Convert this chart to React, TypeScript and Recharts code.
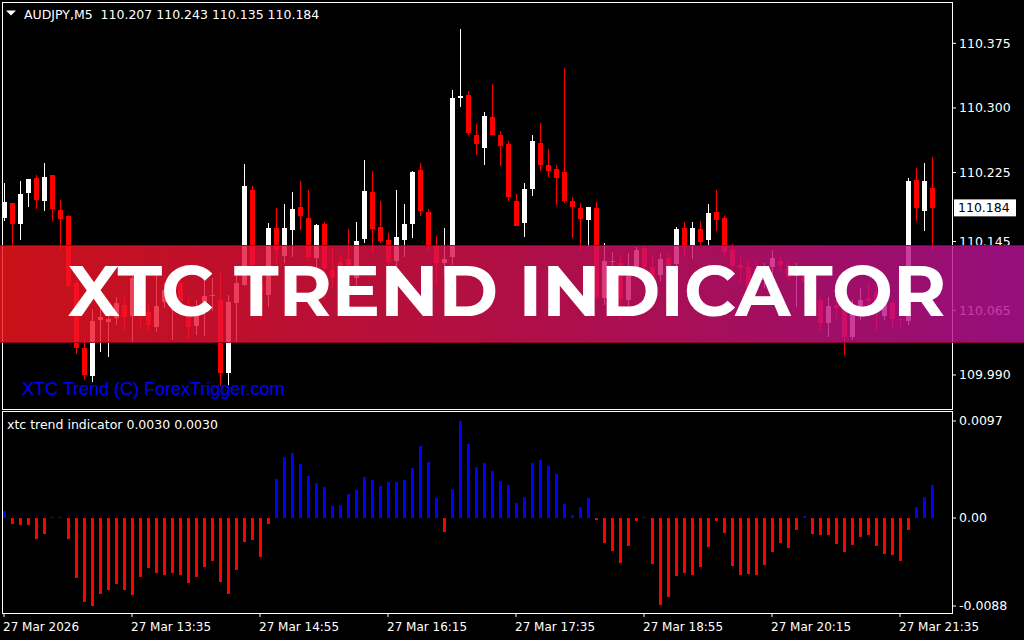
import React from 'react';
import { ComposedChart, Bar, XAxis, YAxis, ReferenceLine } from 'recharts';

// AUDJPY M5 candles
const openPrices = [
  110.173, 110.190, 110.165, 110.202, 110.219, 110.192, 110.222, 110.182, 110.175, 110.097,
  110.021, 109.989, 110.053, 110.052, 110.057, 110.071, 110.059, 110.077, 110.063, 110.046,
  110.075, 110.081, 110.097, 110.057, 110.046, 110.075, 110.082, 110.077, 109.993, 110.074,
  110.094, 110.205, 110.097, 110.083, 110.161, 110.129, 110.159, 110.185, 110.172, 110.126,
  110.165, 110.112, 110.121, 110.125, 110.103, 110.148, 110.202, 110.162, 110.147, 110.122,
  110.147, 110.166, 110.228, 110.179, 110.141, 110.120, 110.127, 110.312, 110.315, 110.269,
  110.254, 110.290, 110.269, 110.258, 110.192, 110.166, 110.206, 110.259, 110.234, 110.229,
  110.226, 110.192, 110.184, 110.170, 110.184, 110.079, 110.121, 110.120, 110.077, 110.115,
  110.137, 110.115, 110.106, 110.126, 110.118, 110.161, 110.140, 110.159, 110.147, 110.179,
  110.172, 110.135, 110.118, 110.115, 110.114, 110.100, 110.115, 110.122, 110.118, 110.105,
  110.108, 110.094, 110.077, 110.050, 110.071, 110.065, 110.034, 110.068, 110.079, 110.086,
  110.059, 110.074, 110.055, 110.052, 110.216, 110.180, 110.207,
];
const highPrices = [
  110.213, 110.190, 110.215, 110.218, 110.222, 110.236, 110.222, 110.193, 110.176, 110.100,
  110.031, 110.067, 110.070, 110.065, 110.081, 110.081, 110.112, 110.089, 110.074, 110.110,
  110.097, 110.097, 110.100, 110.079, 110.077, 110.103, 110.103, 110.110, 110.083, 110.108,
  110.235, 110.209, 110.100, 110.166, 110.184, 110.189, 110.202, 110.215, 110.205, 110.165,
  110.168, 110.137, 110.129, 110.159, 110.168, 110.240, 110.227, 110.192, 110.155, 110.205,
  110.189, 110.227, 110.236, 110.183, 110.151, 110.161, 110.321, 110.392, 110.320, 110.281,
  110.295, 110.328, 110.273, 110.262, 110.200, 110.213, 110.269, 110.283, 110.252, 110.234,
  110.346, 110.197, 110.190, 110.185, 110.191, 110.143, 110.133, 110.128, 110.132, 110.139,
  110.140, 110.128, 110.132, 110.132, 110.162, 110.168, 110.168, 110.169, 110.189, 110.205,
  110.175, 110.142, 110.129, 110.124, 110.121, 110.120, 110.135, 110.129, 110.121, 110.120,
  110.112, 110.100, 110.081, 110.081, 110.094, 110.071, 110.077, 110.091, 110.097, 110.094,
  110.091, 110.077, 110.071, 110.219, 110.230, 110.236, 110.243,
];
const lowPrices = [
  110.169, 110.139, 110.146, 110.185, 110.182, 110.180, 110.169, 110.135, 110.092, 110.014,
  109.984, 109.982, 110.017, 110.010, 110.048, 110.040, 110.028, 110.045, 110.040, 110.040,
  110.068, 110.031, 110.065, 110.031, 110.036, 110.036, 110.065, 109.978, 109.976, 110.028,
  110.093, 110.106, 110.052, 110.069, 110.118, 110.120, 110.126, 110.158, 110.124, 110.097,
  110.077, 110.091, 110.089, 110.100, 110.094, 110.144, 110.132, 110.143, 110.112, 110.114,
  110.127, 110.149, 110.175, 110.135, 110.094, 110.103, 110.118, 110.301, 110.269, 110.245,
  110.233, 110.269, 110.232, 110.192, 110.163, 110.150, 110.198, 110.227, 110.219, 110.187,
  110.189, 110.149, 110.134, 110.139, 110.077, 110.071, 110.089, 110.052, 110.071, 110.106,
  110.106, 110.089, 110.100, 110.097, 110.106, 110.129, 110.125, 110.141, 110.140, 110.157,
  110.129, 110.106, 110.097, 110.083, 110.086, 110.091, 110.106, 110.110, 110.099, 110.069,
  110.086, 110.070, 110.040, 110.034, 110.054, 110.013, 110.031, 110.054, 110.069, 110.040,
  110.054, 110.045, 110.045, 110.048, 110.169, 110.157, 110.135,
];
const closePrices = [
  110.191, 110.166, 110.200, 110.218, 110.193, 110.220, 110.183, 110.172, 110.094, 110.021,
  109.990, 110.053, 110.057, 110.055, 110.074, 110.057, 110.103, 110.071, 110.048, 110.070,
  110.089, 110.086, 110.075, 110.045, 110.065, 110.082, 110.083, 109.992, 110.075, 110.097,
  110.209, 110.118, 110.085, 110.161, 110.135, 110.161, 110.183, 110.175, 110.127, 110.164,
  110.114, 110.103, 110.114, 110.108, 110.146, 110.204, 110.159, 110.146, 110.121, 110.150,
  110.165, 110.226, 110.180, 110.141, 110.120, 110.125, 110.312, 110.314, 110.271, 110.259,
  110.291, 110.269, 110.256, 110.196, 110.163, 110.206, 110.262, 110.233, 110.227, 110.219,
  110.192, 110.185, 110.171, 110.185, 110.081, 110.122, 110.122, 110.078, 110.115, 110.135,
  110.115, 110.100, 110.125, 110.105, 110.159, 110.139, 110.161, 110.144, 110.178, 110.170,
  110.132, 110.117, 110.115, 110.089, 110.093, 110.112, 110.126, 110.117, 110.104, 110.108,
  110.097, 110.077, 110.050, 110.070, 110.067, 110.034, 110.062, 110.077, 110.076, 110.071,
  110.077, 110.056, 110.054, 110.215, 110.184, 110.215, 110.184,
];

// xtc trend indicator histogram
const xtcValues = [
  0.0007, -0.0006, -0.0007, -0.0007, -0.0021, -0.0016, 0.0001, 0.0001, -0.0021, -0.0060,
  -0.0084, -0.0088, -0.0076, -0.0072, -0.0066, -0.0072, -0.0077, -0.0059, -0.0050, -0.0055,
  -0.0057, -0.0055, -0.0057, -0.0065, -0.0059, -0.0049, -0.0043, -0.0064, -0.0076, -0.0052,
  -0.0024, -0.0022, -0.0039, -0.0006, 0.0039, 0.0061, 0.0065, 0.0054, 0.0042, 0.0035,
  0.0031, 0.0012, 0.0013, 0.0024, 0.0028, 0.0041, 0.0038, 0.0032, 0.0036, 0.0036,
  0.0038, 0.0050, 0.0072, 0.0056, 0.0020, -0.0014, 0.0029, 0.0097, 0.0074, 0.0051,
  0.0055, 0.0047, 0.0037, 0.0033, 0.0015, 0.0021, 0.0055, 0.0058, 0.0052, 0.0044,
  0.0014, 0.0003, 0.0011, 0.0020, -0.0002, -0.0025, -0.0033, -0.0045, -0.0028, -0.0003,
  0.0001, -0.0046, -0.0087, -0.0079, -0.0058, -0.0055, -0.0057, -0.0049, -0.0029, -0.0003,
  -0.0015, -0.0048, -0.0057, -0.0056, -0.0057, -0.0047, -0.0034, -0.0025, -0.0030, -0.0012,
  0.0002, -0.0016, -0.0017, -0.0017, -0.0026, -0.0034, -0.0027, -0.0019, -0.0017, -0.0028,
  -0.0036, -0.0037, -0.0043, -0.0012, 0.0011, 0.0021, 0.0033,
];

const tickTimes = ['12:15', '13:35', '14:55', '16:15', '17:35', '18:55', '20:15', '21:35'];
const tickLabels = [
  '27 Mar 2026', '27 Mar 13:35', '27 Mar 14:55', '27 Mar 16:15',
  '27 Mar 17:35', '27 Mar 18:55', '27 Mar 20:15', '27 Mar 21:35',
];
const priceTicks = [109.99, 110.065, 110.145, 110.225, 110.3, 110.375];
const xtcTicks = [-0.0088, 0, 0.0097];

const symbolTitle = 'AUDJPY,M5  110.207 110.243 110.135 110.184';
const indicatorTitle = 'xtc trend indicator 0.0030 0.0030';
const copyright = 'XTC Trend (C) ForexTrigger.com';
const bannerText = 'XTC TREND INDICATOR';
const lastPrice = 110.184;

const MT_FONT = '"DejaVu Sans", Verdana, sans-serif';

// one slot per 5 min bar, plus two empty slots for the chart shift on the right
const slotCount = openPrices.length + 2;
const times = Array.from({ length: slotCount }, (_, i) => {
  const m = 12 * 60 + 15 + i * 5;
  return `${String(Math.floor(m / 60)).padStart(2, '0')}:${String(m % 60).padStart(2, '0')}`;
});

const rows = times.map((t, i) =>
  i < openPrices.length
    ? {
        t,
        o: openPrices[i],
        h: highPrices[i],
        l: lowPrices[i],
        c: closePrices[i],
        range: [lowPrices[i], highPrices[i]],
        xtc: xtcValues[i],
      }
    : { t }
);

function Candle(props: any) {
  const { x, y, width, height, payload } = props;
  if (!payload || payload.o == null) return null;
  const { o, h, l, c } = payload;
  const top = Math.min(y, y + height);
  const span = Math.abs(height);
  const k = h > l ? span / (h - l) : 0;
  const color = c >= o ? '#ffffff' : '#ff0000';
  const bx = Math.round(x);
  const bTop = Math.round(top + (h - Math.max(o, c)) * k);
  const bH = Math.max(1, Math.round(Math.abs(o - c) * k));
  return (
    <g>
      <rect x={bx + 2} y={Math.round(top)} width={1} height={Math.max(1, Math.round(span))} fill={color} />
      <rect x={bx} y={bTop} width={5} height={bH} fill={color} />
    </g>
  );
}

function HistBar(props: any) {
  const { x, y, height, payload } = props;
  if (!payload || payload.xtc == null) return null;
  const top = Math.min(y, y + height);
  return (
    <rect
      x={Math.round(x)}
      y={Math.round(top)}
      width={3}
      height={Math.max(1, Math.round(Math.abs(height)))}
      fill={payload.xtc >= 0 ? '#0000ff' : '#ff0000'}
    />
  );
}

function PriceTag(props: any) {
  const vb = props.viewBox;
  if (!vb) return null;
  const x = vb.x + vb.width + 2;
  return (
    <g>
      <rect x={x} y={vb.y - 8.5} width={62} height={17} fill="#ffffff" />
      <text x={x + 4} y={vb.y} dy="0.36em" fill="#000000" fontSize={12.5} fontFamily={MT_FONT}>
        {props.text}
      </text>
    </g>
  );
}

function TimeTick(props: any) {
  const { x, y, payload } = props;
  const idx = tickTimes.indexOf(payload.value);
  if (idx < 0) return null;
  return (
    <text x={x - 1} y={y + 12} fill="#ffffff" fontSize={12} fontFamily={MT_FONT} textAnchor="start">
      {tickLabels[idx]}
    </text>
  );
}

const frame = (top: number, height: number): React.CSSProperties => ({
  position: 'absolute',
  left: 2,
  top,
  width: 951,
  height,
  border: '1px solid #ffffff',
  boxSizing: 'border-box',
  pointerEvents: 'none',
});

export default function App() {
  const axisTick = { fill: '#ffffff', fontSize: 12.5, fontFamily: MT_FONT };
  return (
    <div style={{ position: 'absolute', left: 0, top: 0, width: 1024, height: 640, background: '#000', overflow: 'hidden' }}>
      <div style={{ position: 'absolute', left: 0, top: 0 }}>
        <ComposedChart width={1024} height={409} data={rows} margin={{ top: 2, right: 0, bottom: 0, left: 0 }}>
          <XAxis dataKey="t" hide />
          <YAxis
            orientation="right"
            width={72}
            domain={[109.9505, 110.423]}
            ticks={priceTicks}
            tickFormatter={(v: number) => v.toFixed(3)}
            axisLine={false}
            tickLine={{ stroke: '#ffffff' }}
            tickSize={4}
            tickMargin={3}
            tick={axisTick}
          />
          <Bar dataKey="range" barSize={5} isAnimationActive={false} shape={(p: any) => <Candle {...p} />} />
          <ReferenceLine y={lastPrice} stroke="none" label={<PriceTag text={lastPrice.toFixed(3)} />} />
        </ComposedChart>
      </div>

      <div style={{ position: 'absolute', left: 0, top: 411 }}>
        <ComposedChart width={1024} height={229} data={rows} margin={{ top: 0, right: 0, bottom: 0, left: 0 }}>
          <XAxis
            dataKey="t"
            ticks={tickTimes}
            interval={0}
            height={27}
            axisLine={false}
            tickLine={{ stroke: '#ffffff' }}
            tickSize={4}
            tick={<TimeTick />}
          />
          <YAxis
            orientation="right"
            width={72}
            domain={[-0.0095, 0.0107]}
            ticks={xtcTicks}
            tickFormatter={(v: number) => (v === 0 ? '0.00' : v.toFixed(4))}
            axisLine={false}
            tickLine={{ stroke: '#ffffff' }}
            tickSize={4}
            tickMargin={3}
            tick={axisTick}
          />
          <Bar dataKey="xtc" barSize={3} isAnimationActive={false} shape={(p: any) => <HistBar {...p} />} />
        </ComposedChart>
      </div>

      <div style={frame(2, 408)} />
      <div style={frame(411, 203)} />

      <svg width={1024} height={640} style={{ position: 'absolute', left: 0, top: 0, pointerEvents: 'none' }}>
        <defs>
          <linearGradient id="bannerFill" x1="0" y1="0" x2="1" y2="0">
            <stop offset="0%" stopColor="rgb(245,20,30)" />
            <stop offset="50%" stopColor="rgb(215,18,85)" />
            <stop offset="100%" stopColor="rgb(182,18,150)" />
          </linearGradient>
        </defs>
        <polygon points="6,10.5 16,10.5 11,15.5" fill="#ffffff" />
        <text x={24} y={19} fill="#ffffff" fontSize={12.5} fontFamily={MT_FONT} style={{ whiteSpace: 'pre' }}>
          {symbolTitle}
        </text>
        <text x={7} y={429} fill="#ffffff" fontSize={12.5} fontFamily={MT_FONT}>
          {indicatorTitle}
        </text>
        <text x={22} y={395} fill="#0000ff" fontSize={18} fontFamily='"Liberation Sans", Arial, sans-serif'>
          {copyright}
        </text>

        <rect x={0} y={245} width={1024} height={98} fill="url(#bannerFill)" fillOpacity={0.82} />
        <rect x={0} y={245} width={1024} height={1} fill="rgb(120,0,30)" fillOpacity={0.7} />
        <rect x={0} y={342} width={1024} height={1} fill="rgb(120,0,30)" fillOpacity={0.7} />
        <text
          x={68}
          y={316}
          fill="#ffffff"
          fontSize={71}
          fontWeight={700}
          fontFamily='Montserrat, Lato, "Open Sans", sans-serif'
          textLength={878}
          lengthAdjust="spacingAndGlyphs"
        >
          {bannerText}
        </text>
      </svg>
    </div>
  );
}
